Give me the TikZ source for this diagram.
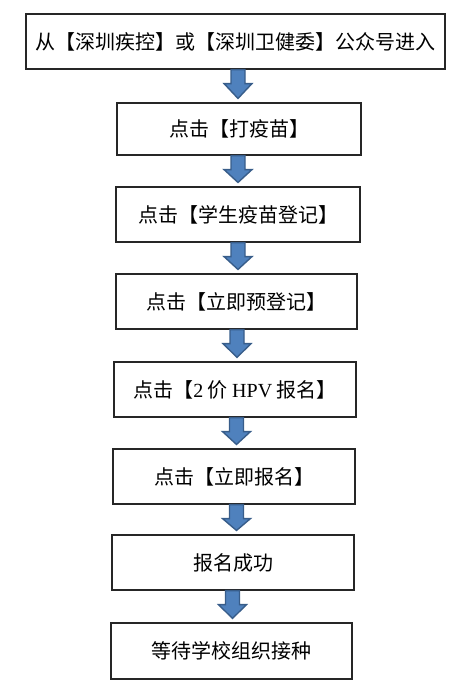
\documentclass[tikz,border=0pt]{standalone}
\usepackage{fontspec}
\setmainfont{Liberation Serif}
\newfontfamily\cjk{Noto Sans CJK SC}
\usetikzlibrary{calc}
\definecolor{arrfill}{HTML}{4F81BD}
\definecolor{arrline}{HTML}{385D8A}
\tikzset{
  box/.style={draw=black!85, line width=1.1pt, fill=white, inner sep=0pt,
    font=\cjk\fontsize{20pt}{23pt}\selectfont, text=black},
  blockarrow/.style={fill=arrfill, draw=arrline, line width=1.4pt, line join=miter}
}
\newcommand\blkarrow[3]{%
  \draw[blockarrow] let \p1=(#1.south), \p2=(#2.north), \p3=($(#1.south)+(#3pt,0)$) in
    (\x3-7pt,\y1) -- (\x3-7pt,\y1-14pt) -- (\x3-14pt,\y1-14pt) -- (\x3,\y2+4pt)
    -- (\x3+14pt,\y1-14pt) -- (\x3+7pt,\y1-14pt) -- (\x3+7pt,\y1) -- cycle;
}
\begin{document}
\begin{tikzpicture}[x=1pt,y=1pt]
\useasboundingbox (0,0) rectangle (459,-699);
\node[box, minimum width=419pt, minimum height=55pt] (b1) at (235.5,-41.5) {从【深圳疾控】或【深圳卫健委】公众号进入};
\node[box, minimum width=244pt, minimum height=52pt] (b2) at (239,-129) {点击【打疫苗】};
\node[box, minimum width=244pt, minimum height=55pt] (b3) at (238,-214.5) {点击【学生疫苗登记】};
\node[box, minimum width=241pt, minimum height=55pt] (b4) at (236.5,-301.5) {点击【立即预登记】};
\node[box, minimum width=242pt, minimum height=55pt] (b5) at (235,-389.5) {点击【{\fontspec{Liberation Serif}2} 价 {\fontspec{Liberation Serif}HPV} 报名】};
\node[box, minimum width=242pt, minimum height=55pt] (b6) at (234,-476.5) {点击【立即报名】};
\node[box, minimum width=242pt, minimum height=55pt] (b7) at (233,-562.5) {报名成功};
\node[box, minimum width=241pt, minimum height=56pt] (b8) at (231.5,-651) {等待学校组织接种};
\blkarrow{b1}{b2}{2.5}
\blkarrow{b2}{b3}{-1}
\blkarrow{b3}{b4}{0}
\blkarrow{b4}{b5}{0.5}
\blkarrow{b5}{b6}{1.5}
\blkarrow{b6}{b7}{2.5}
\blkarrow{b7}{b8}{-0.5}
\end{tikzpicture}
\end{document}
